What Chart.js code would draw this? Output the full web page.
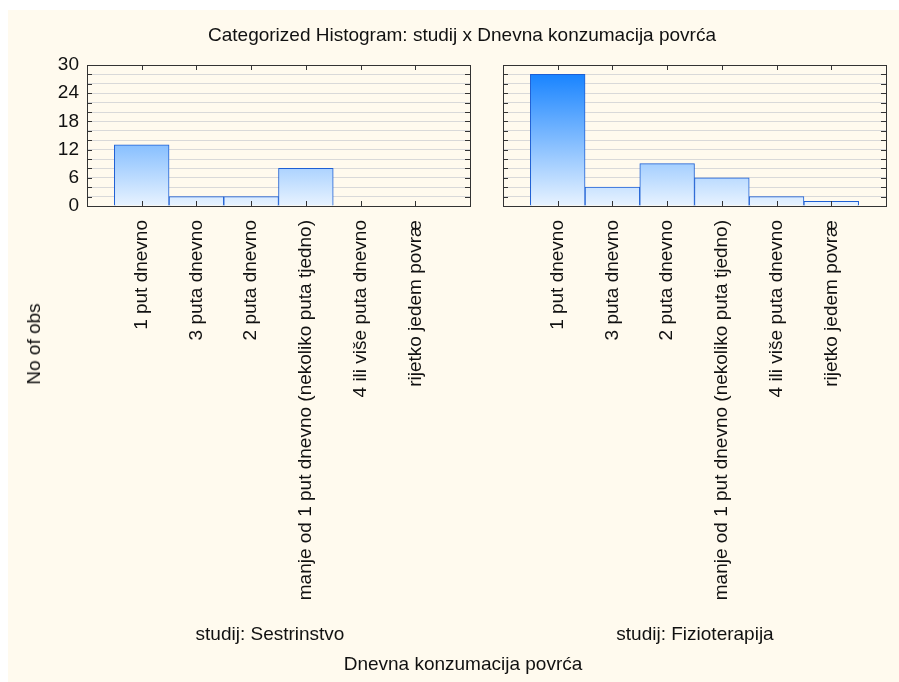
<!DOCTYPE html>
<html>
<head>
<meta charset="utf-8">
<script src="https://cdn.jsdelivr.net/npm/chart.js@4"></script>
<style>
  body { margin: 0; background: #fff; font-family: "Liberation Sans", Arial, sans-serif; }
  #wrap { position: relative; width: 899px; height: 682px; overflow: hidden; }
  #bg { position: absolute; left: 8px; top: 10px; right: 0; bottom: 0; background: #fffaee; }
  canvas { position: absolute; top: 0; }
  .txt { position: absolute; font-size: 19px; color: #111; white-space: nowrap; transform: translate(-50%, -50%); }
</style>
</head>
<body>
<div id="wrap">
  <div id="bg"></div>
  <canvas id="left" width="485" height="682" style="left:0;width:485px;height:682px"></canvas>
  <canvas id="right" width="414" height="682" style="left:485px;width:414px;height:682px"></canvas>
  <div class="txt" style="left:462px;top:35px">Categorized Histogram: studij x Dnevna konzumacija povrća</div>
  <div class="txt" style="left:34px;top:344px;transform:translate(-50%,-50%) rotate(-90deg)">No of obs</div>
  <div class="txt" style="left:270px;top:634px">studij: Sestrinstvo</div>
  <div class="txt" style="left:695px;top:634px">studij: Fizioterapija</div>
  <div class="txt" style="left:463px;top:664px">Dnevna konzumacija povrća</div>
</div>
<script>
let categories = ['1 put dnevno', '3 puta dnevno', '2 puta dnevno',
  'manje od 1 put dnevno (nekoliko puta tjedno)', '4 ili više puta dnevno', 'rijetko jedem povræ'];
let sestrinstvo = [13, 2, 2, 8, 0, 0];
let fizioterapija = [28, 4, 9, 6, 2, 1];
let yTicks = [0, 6, 12, 18, 24, 30];

function barFill(ctx) {
  let area = ctx.chart.chartArea;
  if (!area) return '#8cc';
  let g = ctx.chart.ctx.createLinearGradient(0, area.top, 0, area.bottom);
  g.addColorStop(0, '#0a7cff');
  g.addColorStop(1, '#e8f3ff');
  return g;
}

// frame plus inward tick marks, as in the original
let framePlugin = {
  id: 'frame',
  afterDraw(chart) {
    let c = chart.ctx, a = chart.chartArea;
    c.save();
    c.strokeStyle = '#333';
    c.lineWidth = 1;
    c.beginPath();
    chart.scales.y.ticks.forEach(t => {
      let y = Math.round(chart.scales.y.getPixelForValue(t.value)) + 0.5;
      c.moveTo(a.left, y); c.lineTo(a.left + 5, y);
      c.moveTo(a.right, y); c.lineTo(a.right - 5, y);
    });
    chart.scales.x.ticks.forEach(t => {
      let x = Math.round(chart.scales.x.getPixelForValue(t.value)) + 0.5;
      c.moveTo(x, a.bottom); c.lineTo(x, a.bottom - 5);
      c.moveTo(x, a.top); c.lineTo(x, a.top + 5);
    });
    c.stroke();
    c.strokeRect(Math.round(a.left) + 0.5, Math.round(a.top) + 0.5,
      Math.round(a.right - a.left), Math.round(a.bottom - a.top));
    c.restore();
  }
};

function makePanel(id, values, yWidth, padRight, showY) {
  new Chart(document.getElementById(id), {
    type: 'bar',
    data: {
      datasets: [{
        data: values.map((v, i) => ({ x: i, y: v })),
        backgroundColor: barFill,
        borderColor: '#1d5fd4',
        borderWidth: 1,
        barPercentage: 1,
        categoryPercentage: 1
      }]
    },
    options: {
      responsive: false,
      animation: false,
      layout: { padding: { left: 0, right: padRight, top: 65, bottom: 0 } },
      plugins: { legend: { display: false }, tooltip: { enabled: false } },
      scales: {
        x: {
          type: 'linear',
          offset: false,
          min: -1,
          max: categories.length,
          grid: { display: false },
          border: { display: false },
          afterBuildTicks: s => { s.ticks = categories.map((_, i) => ({ value: i })); },
          afterFit: s => { s.height = 476; s.paddingLeft = 0; s.paddingRight = 0; },
          ticks: {
            autoSkip: false,
            minRotation: 90,
            maxRotation: 90,
            padding: 6,
            color: '#111',
            font: { family: 'Liberation Sans', size: 19 },
            callback: v => categories[v]
          }
        },
        y: {
          min: 0,
          max: 30,
          grid: { color: '#d9d9d9', drawTicks: false },
          border: { display: false },
          afterFit: s => { s.width = yWidth; },
          ticks: {
            display: showY,
            autoSkip: false,
            stepSize: 2,
            padding: 8,
            color: '#111',
            font: { family: 'Liberation Sans', size: 19 },
            callback: v => yTicks.includes(v) ? v : ''
          }
        }
      }
    },
    plugins: [framePlugin]
  });
}

makePanel('left', sestrinstvo, 87, 15, true);
makePanel('right', fizioterapija, 18, 13, false);
</script>
</body>
</html>
